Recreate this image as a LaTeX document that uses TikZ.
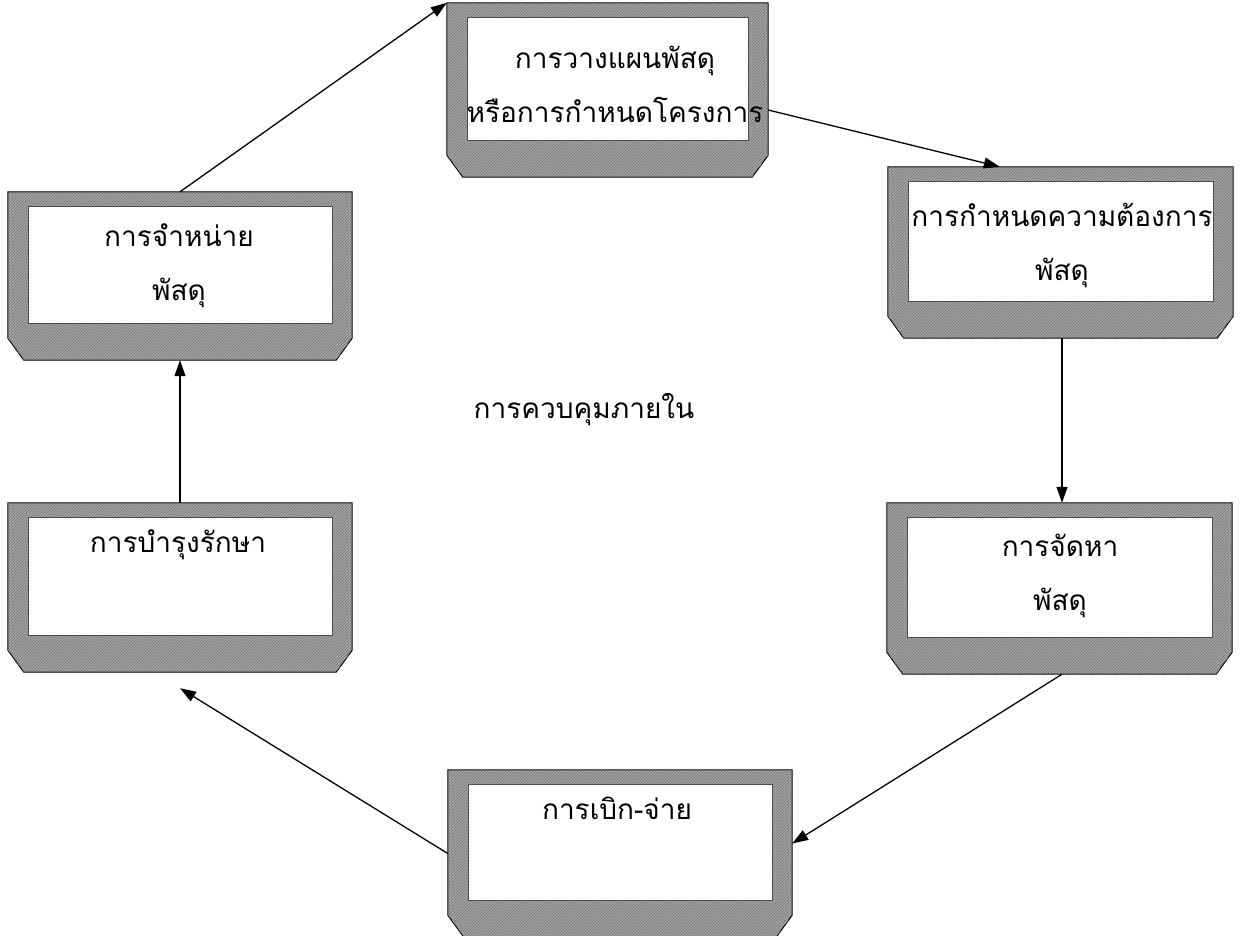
\documentclass[tikz,border=0pt]{standalone}
\usepackage{fontspec}
\newfontfamily\thaifont[Script=Thai]{Loma}
\usetikzlibrary{arrows.meta, positioning, calc, patterns}

\tikzset{
  tray/.style={minimum width=344pt, minimum height=169pt, inner sep=0pt},
  traytext/.style={font=\thaifont\fontsize{28}{54}\selectfont, align=center, inner sep=0pt},
  link/.style={line width=1.3pt, -{Triangle[length=16pt,width=11pt]}},
}

% frame with chamfered foot, inner white panel
\newcommand{\drawtray}[1]{%
  \filldraw[fill=black!35, draw=black, line width=1pt,
      postaction={pattern=north east lines, pattern color=black!55}]
    (#1.north west) -- (#1.north east) -- ($(#1.south east)+(0,-22)$)
    -- ($(#1.south east)+(-16,0)$) -- ($(#1.south west)+(16,0)$)
    -- ($(#1.south west)+(0,-22)$) -- cycle;
  \filldraw[fill=white, draw=black!70]
    ($(#1.north west)+(20,14)$) rectangle ($(#1.south east)+(-20,-37)$);
}

\begin{document}
\begin{tikzpicture}[x=1pt, y={(0pt,-1pt)}]
  \useasboundingbox (0,0) rectangle (1241,935);

  % outer frames
  \node[tray, minimum width=321pt, minimum height=174pt] (plan) at (607.5,90) {};
  \node[tray, minimum height=168pt] (dispose) at (180,276) {};
  \node[tray, minimum width=345pt, minimum height=171pt] (require) at (1060.5,252.5) {};
  \node[tray] (maintain) at (180,587.5) {};
  \node[tray, minimum width=345pt, minimum height=171pt] (procure) at (1059.5,588.5) {};
  \node[tray, minimum height=167pt] (issue) at (620,853.5) {};

  \drawtray{plan}
  \drawtray{dispose}
  \drawtray{require}
  \drawtray{maintain}
  \drawtray{procure}
  \drawtray{issue}

  % labels
  \node[traytext] (plan-t) at (615,84) {การวางแผนพัสดุ\\หรือการกำหนดโครงการ};
  \node[traytext] (dispose-t) at (179,266) {การจำหน่าย\\พัสดุ};
  \node[traytext] (require-t) at (1062,245) {การกำหนดความต้องการ\\พัสดุ};
  \node[traytext] (procure-t) at (1060,576) {การจัดหา\\พัสดุ};
  \node[traytext] (maintain-t) at (178,545) {การบำรุงรักษา};
  \node[traytext] (issue-t) at (617,808) {การเบิก-จ่าย};
  \node[traytext] (control) at (584,410) {การควบคุมภายใน};

  % cycle
  \draw[link] (dispose.north) -- (plan.north west);
  \draw[link] ($(plan.east)+(0,20)$) -- ($(require.north west)+(112,0)$);
  \draw[link] ($(require.south)+(1.5,0)$) -- ($(procure.north)+(2.5,0)$);
  \draw[link] ($(procure.south)+(2.5,0)$) -- ($(issue.east)+(0,-10)$);
  \draw[link] (issue.west) -- ($(maintain.south)+(0,16)$);
  \draw[link] (maintain.north) -- (dispose.south);
\end{tikzpicture}
\end{document}
